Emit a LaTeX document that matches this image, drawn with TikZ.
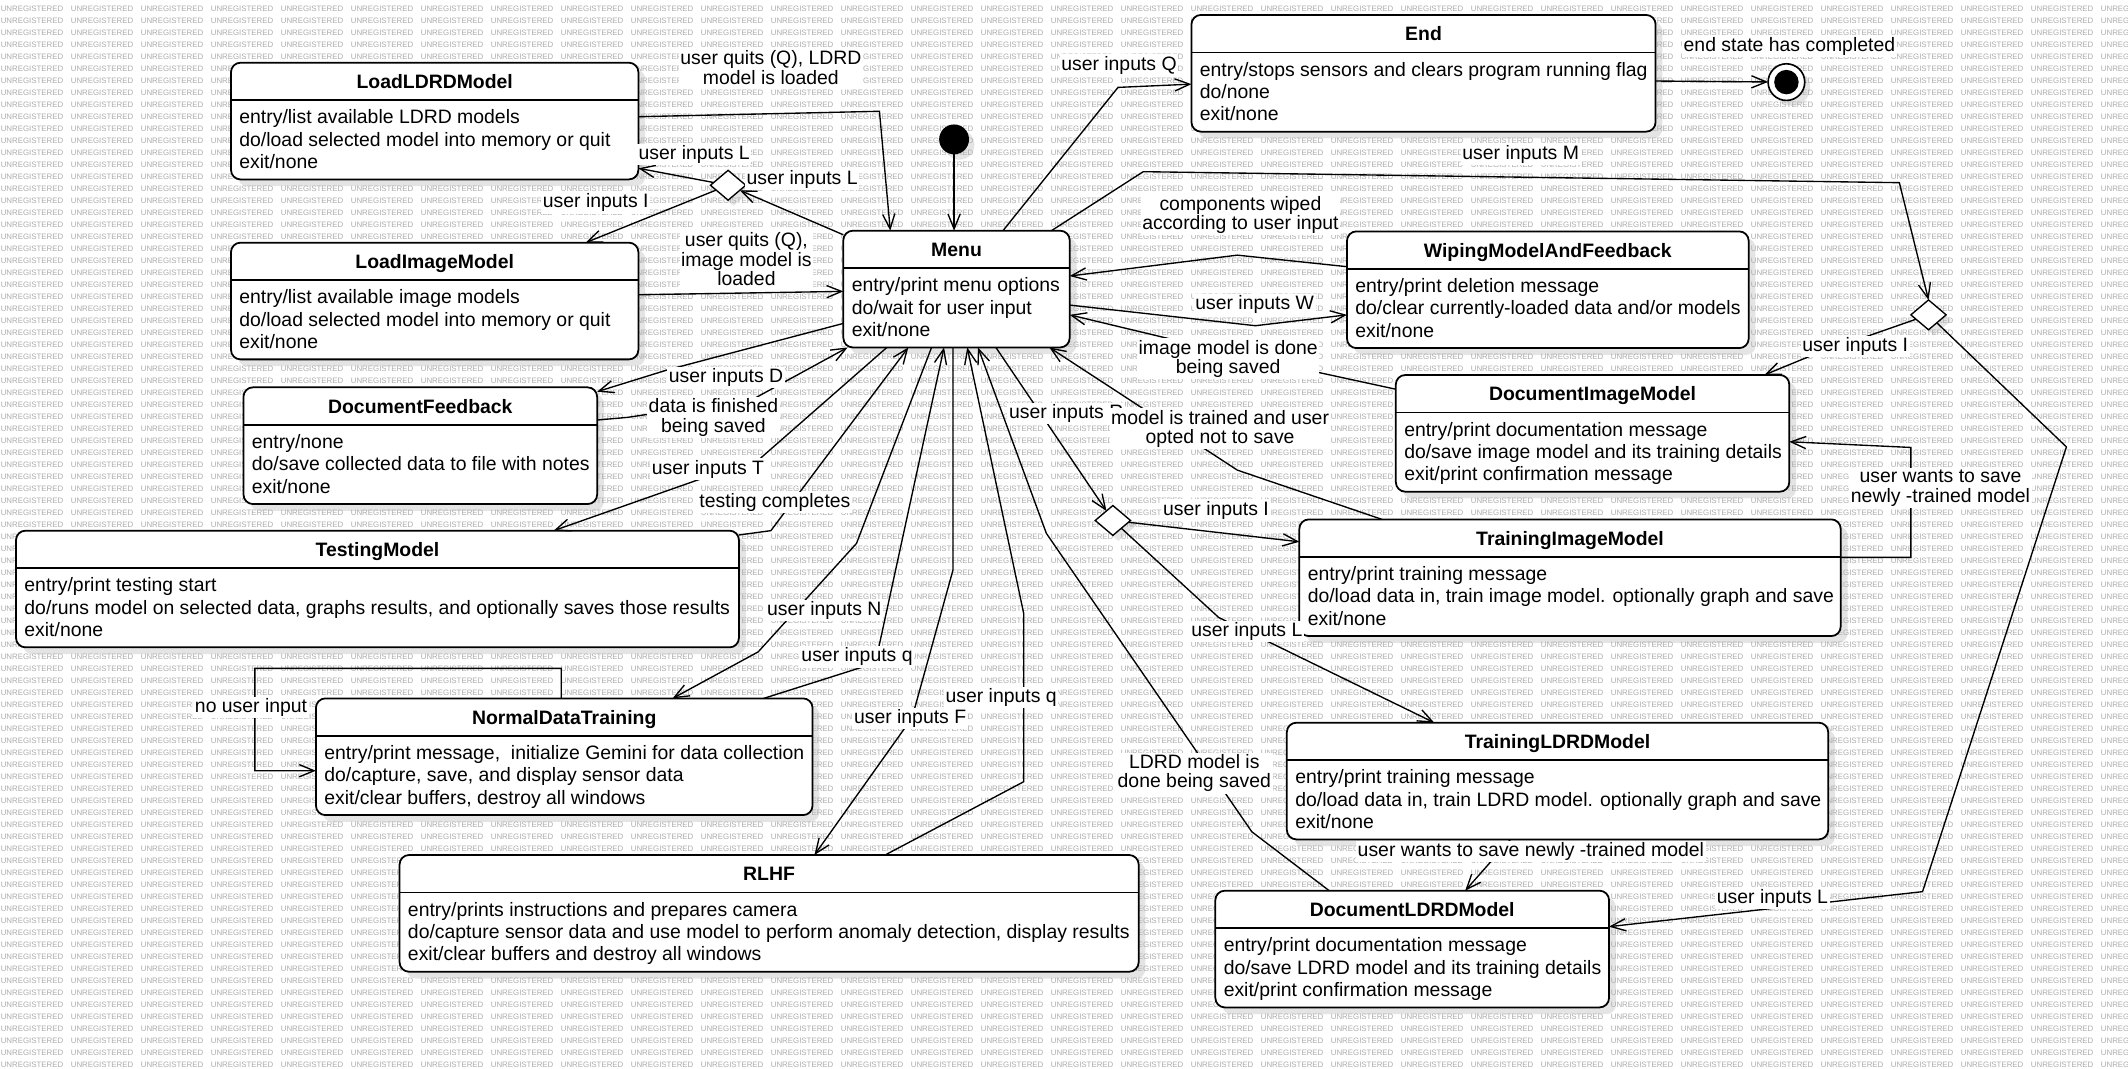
\documentclass[tikz,border=0pt]{standalone}
\usepackage{fontspec}
\setmainfont{Liberation Sans}
\usetikzlibrary{arrows.meta,shapes.geometric,calc}
\pgfdeclarelayer{bgl}
\pgfdeclarelayer{shadowl}
\pgfdeclarelayer{wml}
\pgfsetlayers{bgl,shadowl,wml,main}
\definecolor{wmgray}{RGB}{172,172,172}
\definecolor{shadowgray}{RGB}{228,228,228}
\newcommand\txtfont{\fontsize{14.3}{16.5}\selectfont}
\newcommand\lblfont{\fontsize{14.3}{14.5}\selectfont}
\newcommand\wmfont{\fontsize{5.8}{6}\selectfont}

\tikzset{
  stbox/.style={draw, line width=1.3pt, fill=white, rounded corners=7pt, inner sep=0pt,
    outer sep=0pt, minimum height=86pt, anchor=north west},
  sttitle/.style={font=\txtfont\bfseries, inner sep=0pt, anchor=base},
  stline/.style={font=\txtfont, inner sep=0pt, anchor=base west},
  conn/.style={line width=1pt, -{Straight Barb[length=11pt,width=9pt]}},
  lbl/.style={fill=white, inner sep=1.2pt, align=center, font=\lblfont},
  wmtext/.style={font=\wmfont, text=wmgray, inner sep=0pt, anchor=west},
  choice/.style={diamond, draw, fill=white, line width=1pt, minimum width=26pt,
    minimum height=22pt, inner sep=0pt, outer sep=0pt},
}

% state box: name, left, top, right, title, three activity lines
\newcommand\statebox[8]{%
  \node[stbox, minimum width={#4-#2}] (#1) at (#2,#3) {};
  \begin{pgfonlayer}{shadowl}
    \fill[shadowgray, rounded corners=7pt] ([xshift=5pt,yshift=-5pt]#1.north west)
      rectangle ([xshift=5pt,yshift=-5pt]#1.south east);
  \end{pgfonlayer}
  \draw[line width=1.3pt] ([yshift=-27.6pt]#1.north west) -- ([yshift=-27.6pt]#1.north east);
  \node[sttitle] (#1-t) at ([yshift=-19pt]#1.north) {#5};
  \node[stline] (#1-a) at ([xshift=6pt,yshift=-45pt]#1.north west) {#6};
  \node[stline] (#1-b) at ([xshift=6pt,yshift=-61.5pt]#1.north west) {#7};
  \node[stline] (#1-c) at ([xshift=6pt,yshift=-78pt]#1.north west) {#8};
}

% soft shadow under a decision diamond
\newcommand\choiceshadow[1]{%
  \begin{pgfonlayer}{shadowl}
    \fill[shadowgray] ([xshift=4pt,yshift=-4pt]#1.north) -- ([xshift=4pt,yshift=-4pt]#1.east)
      -- ([xshift=4pt,yshift=-4pt]#1.south) -- ([xshift=4pt,yshift=-4pt]#1.west) -- cycle;
  \end{pgfonlayer}
}

\begin{document}
\begin{tikzpicture}[x=1pt,y=-1pt]
\useasboundingbox (0,0) rectangle (1568,787);
\begin{pgfonlayer}{bgl}
  \fill[white] (0,0) rectangle (1568,787);
\end{pgfonlayer}

% evaluation-copy watermark grid
\begin{pgfonlayer}{wml}
  \foreach \j in {0,...,30}{
    \foreach \k in {0,...,88}{
      \node[wmtext] (wm-\j-\k) at ({51.58*\j+0.4},{6.63+8.843*\k}) {UNREGISTERED};
    }
  }
\end{pgfonlayer}

% ---------- states ----------
\statebox{ldrd}{170.2}{46.2}{470.4}{LoadLDRDModel}{entry/list available LDRD models}{do/load selected model into memory or quit}{exit/none}
\statebox{img}{170.2}{178.8}{470.4}{LoadImageModel}{entry/list available image models}{do/load selected model into memory or quit}{exit/none}
\statebox{menu}{621.4}{170}{788.2}{Menu}{entry/print menu options}{do/wait for user input}{exit/none}
\statebox{endst}{877.9}{11}{1219.9}{End}{entry/stops sensors and clears program running flag}{do/none}{exit/none}
\statebox{wipe}{992.5}{170.5}{1288.5}{WipingModelAndFeedback}{entry/print deletion message}{do/clear currently-loaded data and/or models}{exit/none}
\statebox{docimg}{1028.5}{276.3}{1318.4}{DocumentImageModel}{entry/print documentation message}{do/save image model and its training details}{exit/print confirmation message}
\statebox{trimg}{957.4}{382.7}{1356.3}{TrainingImageModel}{entry/print training message}{do/load data in, train image model. optionally graph and save}{exit/none}
\statebox{docfb}{179.4}{285.4}{440}{DocumentFeedback}{entry/none}{do/save collected data to file with notes}{exit/none}
\statebox{test}{11.8}{391}{544.5}{TestingModel}{entry/print testing start}{do/runs model on selected data, graphs results, and optionally saves those results}{exit/none}
\statebox{ndt}{232.8}{514.6}{598.7}{NormalDataTraining}{entry/print message,\ \ initialize Gemini for data collection}{do/capture, save, and display sensor data}{exit/clear buffers, destroy all windows}
\statebox{rlhf}{294.4}{630}{839}{RLHF}{entry/prints instructions and prepares camera}{do/capture sensor data and use model to perform anomaly detection, display results}{exit/clear buffers and destroy all windows}
\statebox{trldrd}{948.2}{532.5}{1347.1}{TrainingLDRDModel}{entry/print training message}{do/load data in, train LDRD model. optionally graph and save}{exit/none}
\statebox{docldrd}{895.5}{656.3}{1185.6}{DocumentLDRDModel}{entry/print documentation message}{do/save LDRD model and its training details}{exit/print confirmation message}

% ---------- pseudo states ----------
\node[circle, fill=black, minimum size=22pt, inner sep=0pt, outer sep=0pt] (init) at (703,102.7) {};
\node[circle, draw, line width=1.2pt, fill=white, minimum size=27pt, inner sep=0pt, outer sep=0pt] (final) at (1316.3,60.5) {};
\fill[black] (final.center) circle (9pt);
\begin{pgfonlayer}{shadowl}
  \fill[shadowgray] ([xshift=4pt,yshift=-4pt]init.center) circle (11pt);
  \fill[shadowgray] ([xshift=4pt,yshift=-4pt]final.center) circle (13.5pt);
\end{pgfonlayer}
\node[choice] (dA) at (536.5,136.5) {};
\node[choice] (dB) at (1421,232) {};
\node[choice] (dC) at (820,383.5) {};
\choiceshadow{dA}
\choiceshadow{dB}
\choiceshadow{dC}

% ---------- transitions ----------
\draw[conn] (init) -- ([xshift=81.6pt]menu.north west);
\draw[conn] ([yshift=-39.8pt]ldrd.north east) -- (648,82) -- ([xshift=34.6pt]menu.north west);
\draw[conn] ([yshift=-3pt]menu.north west) -- (dA);
\draw[conn] (dA) -- ([yshift=-77.8pt]ldrd.north east);
\draw[conn] (dA) -- ([xshift=261.3pt]img.north west);
\draw[conn] ([yshift=-38.4pt]img.north east) -- ([yshift=-44.7pt]menu.north west);
\draw[conn] ([xshift=117.6pt]menu.north west) -- (823.8,64.4) -- ([yshift=-51pt]endst.north west);
\draw[conn] ([xshift=153.3pt]menu.north west) -- (842.4,126.5) -- (1399.5,134.6) -- (dB.north);
\draw[conn] ([yshift=-48.7pt]endst.north east) -- (final);
\draw[conn] ([yshift=-26pt]wipe.north west) -- (911.7,188) -- ([yshift=-33.4pt]menu.north east);
\draw[conn] ([yshift=-54.8pt]menu.north east) -- (925,240) -- ([yshift=-61.5pt]wipe.north west);
\draw[conn] ([yshift=-10.5pt]docimg.north west) -- (905,260) -- ([yshift=-62pt]menu.north east);
\draw[conn] (dB) -- (1332.8,262.8) -- ([xshift=271.5pt]docimg.north west);
\draw[conn] (dB) -- (1522.6,329.3) -- (1416.6,657) -- ([yshift=-26.5pt]docldrd.north east);
\draw[conn] ([yshift=-28pt]trimg.north east) -- (1408,410.7) -- (1408,329.7) -- ([yshift=-49.2pt]docimg.north east);
\draw[conn] ([yshift=-68.3pt]menu.north west) -- (491.6,272.6) -- ([yshift=-3.2pt]docfb.north east);
\draw[conn] ([yshift=-24.1pt]docfb.north east) -- (462.7,307.5) -- (556,293.5) -- ([xshift=3.2pt]menu.south west);
\draw[conn] ([xshift=32.1pt]menu.south west) -- (558.8,339) -- (514,353.7) -- ([xshift=396.2pt]test.north west);
\draw[conn] ([yshift=-3.2pt]test.north east) -- (568,391) -- ([xshift=47.9pt]menu.south west);
\draw[conn] ([xshift=65pt]menu.south west) -- (631.1,400.4) -- (558.7,480.3) -- ([xshift=262.8pt]ndt.north west);
\draw[conn] ([xshift=329.9pt]ndt.north west) -- (645,488.5) -- ([xshift=74.2pt]menu.south west);
\draw[conn] ([xshift=80.8pt]menu.south west) -- (702.2,420) -- (672,529) -- ([xshift=305.7pt]rlhf.north west);
\draw[conn] ([xshift=357.8pt]rlhf.north west) -- (754.3,576) -- (754.3,452) -- ([xshift=91.3pt]menu.south west);
\draw[conn] ([xshift=83.9pt]docldrd.north west) -- (922.4,612.9) -- (771,393) -- ([xshift=99.2pt]menu.south west);
\draw[conn] ([xshift=112.4pt]menu.south west) -- (dC);
\draw[conn] ([xshift=60.9pt]trimg.north west) -- (911.7,346.4) -- ([xshift=151.8pt]menu.south west);
\draw[conn] (dC) -- ([yshift=-16.5pt]trimg.north west);
\draw[conn] (dC) -- (898,455) -- ([xshift=108.6pt]trldrd.north west);
\draw[conn] ([xshift=164.8pt]trldrd.south west) -- ([xshift=184.1pt]docldrd.north west);
\draw[conn] ([xshift=180.7pt]ndt.north west) -- (413.5,492.5) -- (187.8,492.5) -- (187.8,567.9) -- ([yshift=-53.3pt]ndt.north west);

% ---------- transition labels ----------
\node[lbl] (t-qldrd) at (568,50) {user quits (Q), LDRD\\model is loaded};
\node[lbl] (t-l1) at (511.5,114) {user inputs L};
\node[lbl] (t-l2) at (591,132.5) {user inputs L};
\node[lbl] (t-i1) at (439,149.5) {user inputs I};
\node[lbl] (t-qimg) at (550,191) {user quits (Q),\\image model is\\loaded};
\node[lbl] (t-q) at (824.5,48) {user inputs Q};
\node[lbl] (t-m) at (1120.5,113.5) {user inputs M};
\node[lbl] (t-end) at (1318.5,34.4) {end state has completed};
\node[lbl] (t-wiped) at (914,158.4) {components wiped\\according to user input};
\node[lbl] (t-w) at (924.5,224.5) {user inputs W};
\node[lbl] (t-imgsaved) at (905,264.4) {image model is done\\being saved};
\node[lbl] (t-i2) at (1367,255.5) {user inputs I};
\node[lbl] (t-save1) at (1429.8,359.7) {user wants to save\\newly -trained model};
\node[lbl] (t-l3) at (1306,662) {user inputs L};
\node[lbl] (t-d) at (535,278) {user inputs D};
\node[lbl] (t-fin) at (525.7,307.5) {data is finished\\being saved};
\node[lbl] (t-t) at (521.6,345.6) {user inputs T};
\node[lbl] (t-tc) at (571,370.4) {testing completes};
\node[lbl] (t-n) at (607.4,449.6) {user inputs N};
\node[lbl] (t-q1) at (631.5,484) {user inputs q};
\node[lbl] (t-f) at (670.6,529.4) {user inputs F};
\node[lbl] (t-q2) at (737.7,514) {user inputs q};
\node[lbl] (t-ldrdsaved) at (880,569.6) {LDRD model is\\done being saved};
\node[lbl] (t-r) at (785.6,304.6) {user inputs R};
\node[lbl] (t-nosave) at (899,316) {model is trained and user\\opted not to save};
\node[lbl] (t-i3) at (896,375.8) {user inputs I};
\node[lbl] (t-l4) at (918.7,465.5) {user inputs L};
\node[lbl] (t-save2) at (1128,627.6) {user wants to save newly -trained model};
\node[lbl] (t-none) at (185,521.5) {no user input};
\end{tikzpicture}
\end{document}
